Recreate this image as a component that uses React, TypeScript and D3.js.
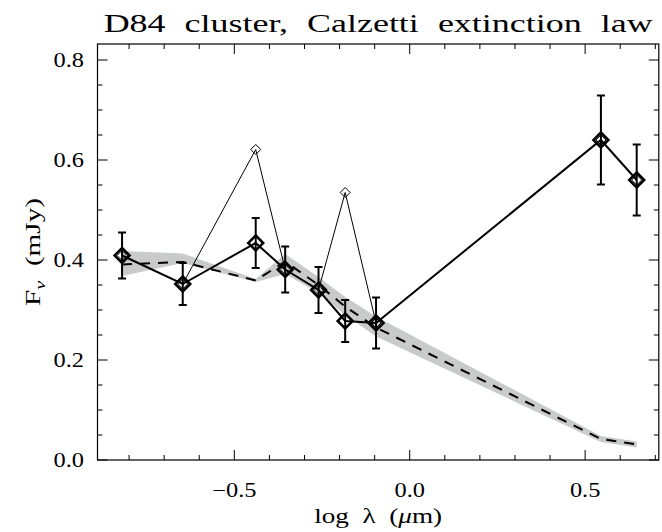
import * as d3 from "d3";

// log wavelength of each band (micron)
const logLam = [-0.82, -0.647, -0.439, -0.355, -0.26, -0.184, -0.096, 0.545, 0.647];
// observed flux (thick line) and errors
const flux = [0.409, 0.352, 0.434, 0.381, 0.34, 0.278, 0.274, 0.64, 0.56];
const fluxErr = [0.046, 0.042, 0.05, 0.046, 0.046, 0.042, 0.051, 0.089, 0.071];
// alternative flux (thin line, small diamonds)
const fluxAlt = [0.409, 0.352, 0.621, 0.381, 0.34, 0.535, 0.274, 0.64, 0.56];
// model: dashed line and grey band
const model = [0.391, 0.396, 0.359, 0.397, 0.35, 0.307, 0.265, 0.042, 0.031];
const bandHi = [0.418, 0.413, 0.362, 0.412, 0.366, 0.326, 0.287, 0.048, 0.037];
const bandLo = [0.368, 0.394, 0.356, 0.372, 0.334, 0.29, 0.247, 0.036, 0.025];

const yTicks = [0, 0.2, 0.4, 0.6, 0.8];
const xTicks = [-0.5, 0, 0.5];

const W = 662;
const H = 532;
const font = "'Liberation Serif', 'DejaVu Serif', serif";

export default function App() {
  const x = d3.scaleLinear().domain([-0.89, 0.71]).range([97.5, 658.8]);
  const y = d3.scaleLinear().domain([0, 0.832]).range([460, 44]);
  const [x0, x1] = x.range();
  const [y0, y1] = y.range();

  const idx = d3.range(logLam.length);
  const line = d3
    .line<number>()
    .x((i) => x(logLam[i]))
    .y((i) => y(flux[i]));
  const altLine = d3
    .line<number>()
    .x((i) => x(logLam[i]))
    .y((i) => y(fluxAlt[i]));
  const modelLine = d3
    .line<number>()
    .x((i) => x(logLam[i]))
    .y((i) => y(model[i]));
  const band = d3
    .area<number>()
    .x((i) => x(logLam[i]))
    .y0((i) => y(bandLo[i]))
    .y1((i) => y(bandHi[i]));

  const diamond = (cx: number, cy: number, r: number) =>
    `M${cx},${cy - r}L${cx + r},${cy}L${cx},${cy + r}L${cx - r},${cy}Z`;

  const yMinor = d3.range(0, 0.8001, 0.05);
  const xMinor = d3.range(-0.8, 0.7001, 0.1);

  // hershey-ish wide glyphs: stretch horizontally
  const wide = (tx: number, ty: number) => `translate(${tx},${ty}) scale(1.22,1)`;
  const tc = (x0 + x1) / 2;

  return (
    <svg
      width={W}
      height={H}
      style={{ position: "absolute", left: 0, top: 0, background: "#fff" }}
      fontFamily={font}
    >
      <text
        x={tc}
        y={32}
        textAnchor="middle"
        fontSize={25}
        style={{ wordSpacing: "7px" }}
        textLength={549}
        lengthAdjust="spacingAndGlyphs"
      >
        D84 cluster, Calzetti extinction law
      </text>

      {/* data */}
      <path d={band(idx) ?? ""} fill="#c9cbcb" stroke="none" />
      <path
        d={modelLine(idx) ?? ""}
        fill="none"
        stroke="#000"
        strokeWidth={2}
        strokeDasharray="10,8"
      />
      <path d={altLine(idx) ?? ""} fill="none" stroke="#000" strokeWidth={1} />
      {idx.map((i) => (
        <path
          key={"a" + i}
          d={diamond(x(logLam[i]), y(fluxAlt[i]), 5)}
          fill="none"
          stroke="#000"
          strokeWidth={1}
        />
      ))}
      <path d={line(idx) ?? ""} fill="none" stroke="#000" strokeWidth={2} />
      {idx.map((i) => {
        const cx = x(logLam[i]);
        const top = y(flux[i] + fluxErr[i]);
        const bot = y(flux[i] - fluxErr[i]);
        return (
          <g key={"e" + i} stroke="#000" strokeWidth={2} fill="none">
            <line x1={cx} x2={cx} y1={top} y2={bot} />
            <line x1={cx - 4} x2={cx + 4} y1={top} y2={top} />
            <line x1={cx - 4} x2={cx + 4} y1={bot} y2={bot} />
            <path d={diamond(cx, y(flux[i]), 7.5)} strokeWidth={2.5} />
          </g>
        );
      })}

      {/* frame */}
      <rect
        x={x0}
        y={y1}
        width={x1 - x0}
        height={y0 - y1}
        fill="none"
        stroke="#000"
        strokeWidth={1.2}
      />
      {yMinor.map((v, i) => {
        const len = i % 4 === 0 ? 10 : 5;
        return (
          <g key={"yt" + i} stroke="#000" strokeWidth={1}>
            <line x1={x0} x2={x0 + len} y1={y(v)} y2={y(v)} />
            <line x1={x1} x2={x1 - len} y1={y(v)} y2={y(v)} />
          </g>
        );
      })}
      {xMinor.map((v, i) => {
        const major = Math.abs(v * 2 - Math.round(v * 2)) < 1e-6;
        const len = major ? 10 : 5;
        return (
          <g key={"xt" + i} stroke="#000" strokeWidth={1}>
            <line x1={x(v)} x2={x(v)} y1={y0} y2={y0 - len} />
            <line x1={x(v)} x2={x(v)} y1={y1} y2={y1 + len} />
          </g>
        );
      })}
      {yTicks.map((v) => (
        <text key={"yl" + v} transform={wide(84, y(v) + 7)} textAnchor="end" fontSize={20}>
          {v.toFixed(1)}
        </text>
      ))}
      {xTicks.map((v) => (
        <text key={"xl" + v} transform={wide(x(v), 497)} textAnchor="middle" fontSize={20}>
          {v < 0 ? "\u2212" + Math.abs(v).toFixed(1) : v.toFixed(1)}
        </text>
      ))}
      <text
        x={tc}
        y={523}
        textAnchor="middle"
        fontSize={20}
        style={{ wordSpacing: "5px" }}
        textLength={128}
        lengthAdjust="spacingAndGlyphs"
      >
        log λ (<tspan fontStyle="italic">μ</tspan>m)
      </text>
      <text
        transform={`translate(40,${(y0 + y1) / 2}) rotate(-90)`}
        textAnchor="middle"
        fontSize={20}
        style={{ wordSpacing: "5px" }}
        textLength={108}
        lengthAdjust="spacingAndGlyphs"
      >
        F<tspan fontStyle="italic" fontSize={14} dy={5}>ν</tspan>
        <tspan dy={-5}> (mJy)</tspan>
      </text>
    </svg>
  );
}
